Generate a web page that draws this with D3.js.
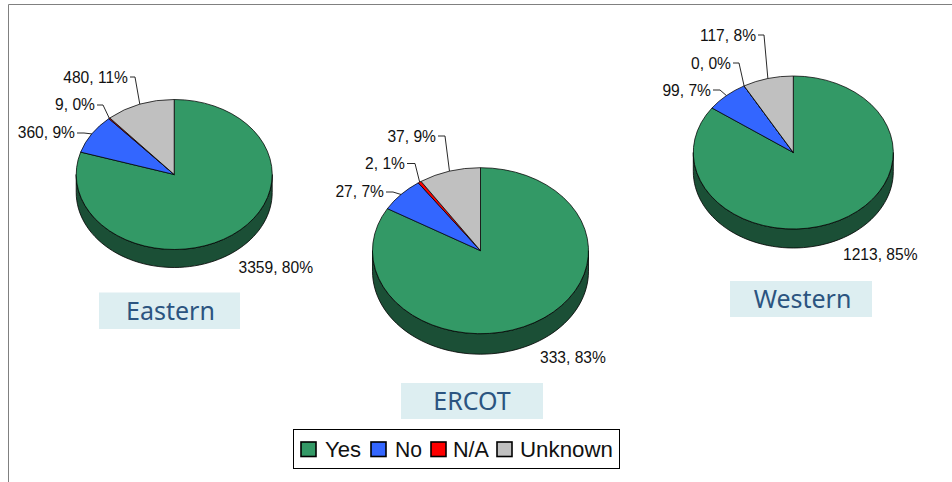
<!DOCTYPE html>
<html>
<head>
<meta charset="utf-8">
<script src="https://cdn.jsdelivr.net/npm/d3@7/dist/d3.min.js"></script>
<style>
html,body{margin:0;padding:0;background:#fff;}
svg{display:block;}
</style>
</head>
<body>
<svg id="chart" width="952" height="482"></svg>
<script>
const categories = ["Yes", "No", "N/A", "Unknown"];
const regions = ["Eastern", "ERCOT", "Western"];
const easternValues = [3359, 360, 9, 480];
const ercotValues = [333, 27, 2, 37];
const westernValues = [1213, 99, 0, 117];
const easternPercents = ["80%", "9%", "0%", "11%"];
const ercotPercents = ["83%", "7%", "1%", "9%"];
const westernPercents = ["85%", "7%", "0%", "8%"];

const colors = ["#339966", "#3366FF", "#FF0000", "#C0C0C0"];
const wallColor = "#1B4F36";

// Layout only: ellipse geometry, label anchors and title plates
const layouts = [
  {cx:174.2, cy:174.5, rx:98, ry:75, depth:18,
   labels:[[238.5,273],[75,138],[95,110],[128,83]], elbows:[null,[84,133],[103,105],[135,77]],
   plate:[99,292.5,141,36.5], titleX:170.5, titleY:320},
  {cx:480.5, cy:250.7, rx:108, ry:83, depth:20.5,
   labels:[[540,363.3],[384,197],[405,169],[436,142]], elbows:[null,[393,192],[415,163.5],[445,136]],
   plate:[401,383,142,36], titleX:472, titleY:410},
  {cx:793.3, cy:152.5, rx:100, ry:76.5, depth:19,
   labels:[[843,260],[711,96],[731,69],[756,41]], elbows:[null,[720,90],[739,63],[764,35]],
   plate:[730,281,142,36], titleX:802.5, titleY:308}
];
const seriesValues = [easternValues, ercotValues, westernValues];
const seriesPercents = [easternPercents, ercotPercents, westernPercents];

const svg = d3.select("#chart");
const labelFont = "'Liberation Sans', Arial, sans-serif";

// frame
svg.append("path").attr("d","M8.5,482V4.5H952").attr("fill","none").attr("stroke","#808080").attr("stroke-width",1);

const pie = d3.pie().sort(null).value(d=>d);

regions.forEach((name,i)=>{
  const L = layouts[i], values = seriesValues[i], pcts = seriesPercents[i];
  const arcs = pie(values);
  const g = svg.append("g");
  const rim = (a,dy=0)=>[L.cx + L.rx*Math.sin(a), L.cy - L.ry*Math.cos(a) + dy];

  // side wall of the 3-D pie
  const front = d3.range(0,61).map(k=>Math.PI/2 + k*Math.PI/60);
  const wall = front.map(a=>rim(a)).concat(front.slice().reverse().map(a=>rim(a,L.depth)));
  g.append("path").attr("d", d3.line().curve(d3.curveLinearClosed)(wall))
    .attr("fill",wallColor).attr("stroke","#000").attr("stroke-width",0.8);

  // slices
  const arc = d3.arc().innerRadius(0).outerRadius(L.rx);
  g.append("g").attr("transform",`translate(${L.cx},${L.cy}) scale(1,${L.ry/L.rx})`)
    .selectAll("path").data(arcs).join("path")
    .attr("d",arc)
    .attr("fill",(d,j)=>colors[j])
    .attr("stroke","#000").attr("stroke-width",0.75)
    .attr("vector-effect","non-scaling-stroke");

  // leader lines
  arcs.forEach((d,j)=>{
    const el = L.elbows[j];
    if(!el) return;
    const tip = rim((d.startAngle+d.endAngle)/2);
    g.append("path").attr("d", d3.line()([[L.labels[j][0]+2,el[1]],el,tip]))
      .attr("fill","none").attr("stroke","#111").attr("stroke-width",0.9);
  });

  // labels
  arcs.forEach((d,j)=>{
    g.append("text").attr("x",L.labels[j][0]).attr("y",L.labels[j][1])
      .attr("text-anchor", j===0 ? "start" : "end")
      .attr("font-family",labelFont).attr("font-size",15.6).attr("fill","#111")
      .text(`${values[j]}, ${pcts[j]}`);
  });

  // title plate
  g.append("rect").attr("x",L.plate[0]).attr("y",L.plate[1]).attr("width",L.plate[2]).attr("height",L.plate[3]).attr("fill","#DDEEF1");
  g.append("text").attr("x",L.titleX).attr("y",L.titleY).attr("text-anchor","middle")
    .attr("font-family","'Noto Sans', sans-serif").attr("font-size",25).attr("fill","#2B5480").text(name);
});

// legend
const legendBox = [293.5,429.5,326,39];
const swatchX = [301,371,431,497];
const legendTextX = [325,395,453,520];
const legendTextW = [36,27,36,93];
const legend = svg.append("g");
legend.append("rect").attr("x",legendBox[0]).attr("y",legendBox[1]).attr("width",legendBox[2]).attr("height",legendBox[3])
  .attr("fill","#fff").attr("stroke","#000").attr("stroke-width",1);
categories.forEach((c,i)=>{
  legend.append("rect").attr("x",swatchX[i]).attr("y",442).attr("width",15).attr("height",14.5)
    .attr("fill",colors[i]).attr("stroke","#000").attr("stroke-width",1.6);
  legend.append("text").attr("x",legendTextX[i]).attr("y",457)
    .attr("font-family",labelFont).attr("font-size",21.5).attr("fill","#111")
    .attr("textLength",legendTextW[i]).attr("lengthAdjust","spacingAndGlyphs").text(c);
});
</script>
</body>
</html>
